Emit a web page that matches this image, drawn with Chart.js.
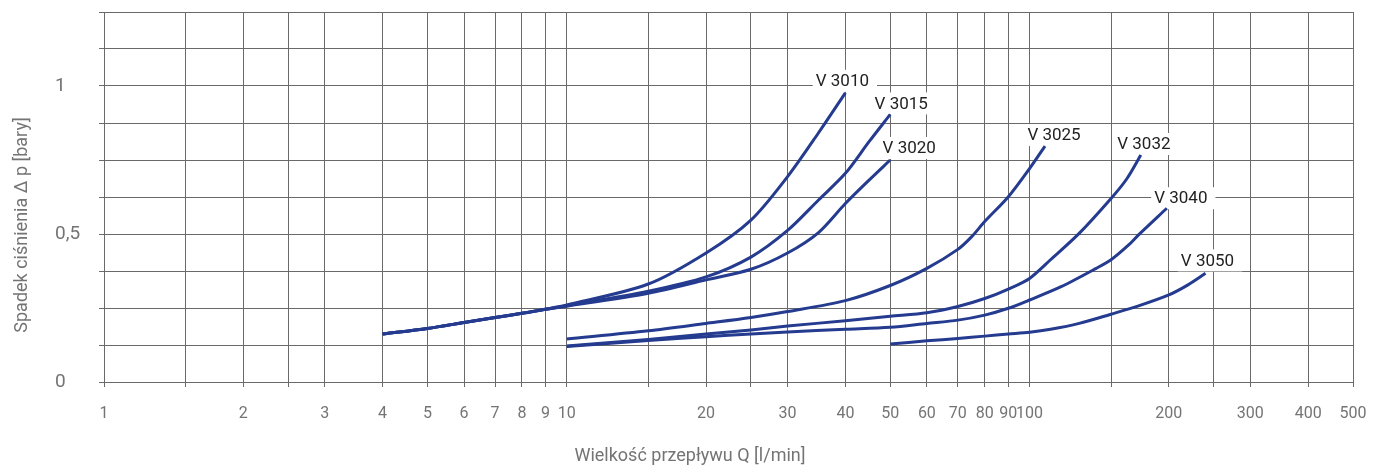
<!DOCTYPE html>
<html>
<head>
<meta charset="utf-8">
<script src="https://cdn.jsdelivr.net/npm/chart.js@4/dist/chart.umd.min.js"></script>
<style>
    body { margin: 0; background: #fff; }
    #wrap { width: 1373px; height: 470px; }
</style>
</head>
<body>
<div id="wrap"><canvas id="chart" width="1373" height="470"></canvas></div>
<script>
// Flow Q [l/min] and pressure drop dp [bar]
const v3010Q  = [4, 5, 6, 7, 8, 9, 10, 15, 20, 25, 30, 35, 40];
const v3010Dp = [0.162, 0.181, 0.201, 0.218, 0.232, 0.246, 0.26, 0.331, 0.436, 0.547, 0.694, 0.842, 0.977];

const v3015Q  = [4, 5, 6, 7, 8, 9, 10, 15, 20, 25, 30, 35, 40, 45, 50];
const v3015Dp = [0.162, 0.181, 0.201, 0.218, 0.232, 0.246, 0.258, 0.307, 0.355, 0.422, 0.512, 0.615, 0.705, 0.812, 0.904];

const v3020Q  = [4, 5, 6, 7, 8, 9, 10, 15, 20, 25, 30, 35, 40, 45, 50];
const v3020Dp = [0.162, 0.181, 0.201, 0.218, 0.232, 0.246, 0.256, 0.30, 0.345, 0.381, 0.436, 0.505, 0.603, 0.682, 0.75];

const v3025Q  = [10, 15, 20, 25, 30, 40, 50, 60, 70, 75, 80, 90, 100, 108];
const v3025Dp = [0.145, 0.173, 0.198, 0.218, 0.238, 0.275, 0.326, 0.384, 0.448, 0.491, 0.542, 0.626, 0.721, 0.797];

const v3032Q  = [10, 15, 20, 25, 30, 40, 50, 60, 70, 80, 90, 100, 111, 128, 150, 162, 174];
const v3032Dp = [0.122, 0.144, 0.162, 0.176, 0.189, 0.207, 0.222, 0.234, 0.255, 0.282, 0.314, 0.35, 0.413, 0.502, 0.62, 0.685, 0.767];

const v3040Q  = [10, 15, 20, 25, 30, 40, 50, 60, 70, 80, 90, 100, 117, 139, 150, 164, 172, 198];
const v3040Dp = [0.12, 0.14, 0.153, 0.162, 0.169, 0.178, 0.185, 0.198, 0.209, 0.226, 0.249, 0.277, 0.322, 0.383, 0.413, 0.464, 0.497, 0.587];

const v3050Q  = [50, 60, 70, 80, 90, 100, 111, 128, 150, 172, 200, 220, 240];
const v3050Dp = [0.128, 0.139, 0.147, 0.155, 0.162, 0.168, 0.178, 0.198, 0.229, 0.257, 0.294, 0.328, 0.367];

const seriesNames = ['V 3010', 'V 3015', 'V 3020', 'V 3025', 'V 3032', 'V 3040', 'V 3050'];
const seriesQ  = [v3010Q, v3015Q, v3020Q, v3025Q, v3032Q, v3040Q, v3050Q];
const seriesDp = [v3010Dp, v3015Dp, v3020Dp, v3025Dp, v3032Dp, v3040Dp, v3050Dp];

// grid lines on the Q axis, and the ones that carry a label
const qGrid   = [1, 1.5, 2, 2.5, 3, 4, 5, 6, 7, 8, 9, 10, 15, 20, 25, 30, 40, 50, 60, 70, 80, 90, 100, 150, 200, 250, 300, 400, 500];
const qLabels = [1, 2, 3, 4, 5, 6, 7, 8, 9, 10, 20, 30, 40, 50, 60, 70, 80, 90, 100, 200, 300, 400, 500];
const dpLabels = { 0: '0', 0.5: '0,5', 1: '1' };

const xTitle = 'Wielkość przepływu Q [l/min]';
const yTitle = 'Spadek ciśnienia Δ p [bary]';

const LINE = '#243b8f';
const GRID = '#6a6a6a';
const TEXT = '#747474';
const FONT = 'Roboto, "DejaVu Sans", sans-serif';

// where each curve name sits relative to the end of its curve (px)
const labelShift = [[-3, -12], [11, -11], [19, -12], [9, -11], [3, -11], [14, -10], [2, -13]];

const curveLabels = {
    id: 'curveLabels',
    beforeDatasetsDraw(chart) {
        const ctx = chart.ctx;
        const xs = chart.scales.x, ys = chart.scales.y;
        ctx.save();
        ctx.font = '17px ' + FONT;
        ctx.textAlign = 'center';
        ctx.textBaseline = 'middle';
        seriesNames.forEach((name, i) => {
            const q = seriesQ[i], dp = seriesDp[i];
            const px = xs.getPixelForValue(q[q.length - 1]) + labelShift[i][0];
            const py = ys.getPixelForValue(dp[dp.length - 1]) + labelShift[i][1];
            const w = ctx.measureText(name).width;
            ctx.fillStyle = '#fff';
            ctx.fillRect(px - w / 2 - 3, py - 11, w + 11, 22);
            ctx.fillStyle = '#222';
            ctx.fillText(name, px, py + 1);
        });
        ctx.restore();
    }
};

const axisTitles = {
    id: 'axisTitles',
    afterDraw(chart) {
        const ctx = chart.ctx;
        ctx.save();
        ctx.font = '18px ' + FONT;
        ctx.fillStyle = TEXT;
        ctx.textAlign = 'center';
        ctx.textBaseline = 'middle';
        ctx.fillText(xTitle, 690, 456);
        ctx.translate(22, 225);
        ctx.rotate(-Math.PI / 2);
        ctx.fillText(yTitle, 0, 0);
        ctx.restore();
    }
};

const datasets = seriesNames.map((name, i) => ({
    label: name,
    data: seriesQ[i].map((q, j) => ({ x: q, y: seriesDp[i][j] })),
    borderColor: LINE,
    borderWidth: 3,
    pointRadius: 0,
    fill: false,
    tension: 0.3,
    borderCapStyle: 'butt'
}));

new Chart(document.getElementById('chart'), {
    type: 'line',
    data: { datasets },
    plugins: [curveLabels, axisTitles],
    options: {
        responsive: false,
        animation: false,
        layout: { padding: { left: 55, right: 20, top: 12, bottom: 0 } },
        plugins: { legend: { display: false }, tooltip: { enabled: false } },
        scales: {
            x: {
                type: 'logarithmic',
                min: 1,
                max: 500,
                afterFit: (scale) => {
                    scale.height = 88;
                    scale.paddingLeft = 0;
                    scale.paddingRight = 0;
                },
                afterBuildTicks: (scale) => { scale.ticks = qGrid.map(v => ({ value: v })); },
                grid: { color: GRID, lineWidth: 1, tickLength: 5 },
                border: { color: GRID },
                ticks: {
                    autoSkip: false,
                    maxRotation: 0,
                    padding: 17,
                    color: TEXT,
                    font: { family: FONT, size: 16 },
                    callback: (v) => qLabels.includes(v) ? String(v) : ''
                }
            },
            y: {
                min: 0,
                max: 1.25,
                afterFit: (scale) => {
                    scale.width = 49;
                    scale.paddingTop = 0;
                    scale.paddingBottom = 0;
                },
                grid: { color: GRID, lineWidth: 1, tickLength: 5 },
                border: { color: GRID },
                ticks: {
                    stepSize: 0.125,
                    autoSkip: false,
                    crossAlign: 'far',
                    color: TEXT,
                    font: { family: FONT, size: 19 },
                    callback: (v) => dpLabels[v] !== undefined ? dpLabels[v] : ''
                }
            }
        }
    }
});
</script>
</body>
</html>
